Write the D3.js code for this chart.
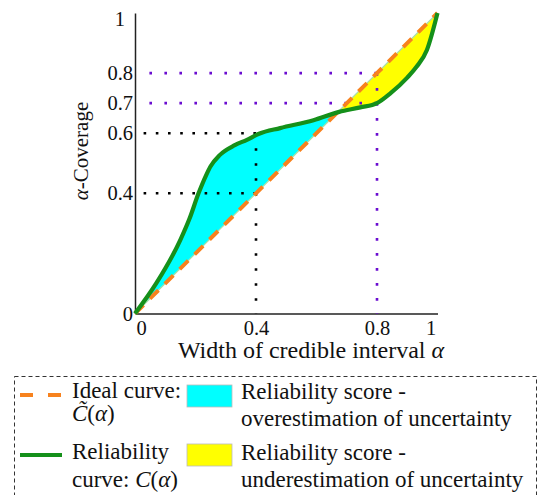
<!DOCTYPE html>
<html>
<head>
<meta charset="utf-8">
<script src="https://cdn.jsdelivr.net/npm/d3@7"></script>
<style>
  body { margin: 0; background: #fff; }
  svg { display: block; }
</style>
</head>
<body>
<svg width="542" height="495"></svg>
<script>
const width = 542
const height = 495
const serif = '"Liberation Serif"'

// Data
const alpha = [0, 0.07, 0.15, 0.18, 0.21, 0.235, 0.25, 0.28, 0.33, 0.37, 0.41, 0.48, 0.59, 0.675, 0.745, 0.8, 0.845, 0.9, 0.93, 0.965, 1]
const coverage = [0, 0.1, 0.245, 0.315, 0.4, 0.46, 0.49, 0.527, 0.56, 0.578, 0.598, 0.617, 0.643, 0.671, 0.686, 0.70, 0.733, 0.785, 0.82, 0.877, 1]
const ideal = [0, 1]
const xTicks = [0, 0.4, 0.8, 1]
const yTicks = [0, 0.4, 0.6, 0.7, 0.8, 1]
const blackGuideX = 0.4
const blackGuideY = [0.4, 0.6]
const purpleGuideX = 0.8
const purpleGuideY = [0.7, 0.8]

const colors = {
    ideal: "#f7821e",
    reliab: "#15901a",
    over: "#00ffff",
    under: "#ffff00",
    purple: "#6a0dd0"
}

let svg = d3.select("svg")

// Scales
let xScale = d3.scaleLinear().domain([0, 1]).range([135, 437.5])
let yScale = d3.scaleLinear().domain([0, 1]).range([313.5, 13])

const curveData = alpha.map((a, i) => ({a: a, c: coverage[i]}))
const idealData = ideal.map(a => ({a: a, c: a}))

// clip regions above / below the diagonal
const defs = svg.append("defs")
defs.append("clipPath").attr("id", "above")
    .append("path")
    .attr("d", d3.line()([[xScale(0), yScale(0)], [xScale(0), yScale(1.05)], [xScale(1), yScale(1)]]) + "Z")
defs.append("clipPath").attr("id", "below")
    .append("path")
    .attr("d", d3.line()([[xScale(0), yScale(0)], [xScale(1.05), yScale(0)], [xScale(1), yScale(1)]]) + "Z")

// Area between reliability curve and ideal curve
let areaGen = d3.area()
    .x(d => xScale(d.a))
    .y0(d => yScale(d.a))
    .y1(d => yScale(d.c))
    .curve(d3.curveMonotoneX)

svg.append("path").datum(curveData)
    .attr("d", areaGen)
    .attr("fill", colors.over)
    .attr("clip-path", "url(#above)")
svg.append("path").datum(curveData)
    .attr("d", areaGen)
    .attr("fill", colors.under)
    .attr("clip-path", "url(#below)")

// Axes
const yAxis = d3.axisLeft(yScale).tickValues(yTicks).tickSize(0).tickPadding(2)
    .tickFormat(d => d3.format("")(d))
const xAxis = d3.axisBottom(xScale).tickValues(xTicks).tickSize(0).tickPadding(7)
    .tickFormat(d => d3.format("")(d))

let gy = svg.append("g")
    .attr("transform", `translate(${xScale(0)},0)`)
    .call(yAxis)
let gx = svg.append("g")
    .attr("transform", `translate(0,${yScale(0)})`)
    .call(xAxis)

;[gx, gy].forEach(g => {
    g.attr("font-family", null).attr("font-size", null)
    g.select(".domain").attr("stroke", "#222").attr("stroke-width", 1.5)
    g.selectAll("text").style("font-family", serif).style("font-size", "20.5px").attr("fill", "#111")
})
gx.selectAll(".tick text").filter(d => d === 0).attr("dx", 6)
gx.selectAll(".tick text").filter(d => d === 1).attr("dx", -7)
gy.selectAll(".tick text").filter(d => d === 1).attr("dx", -8).attr("dy", "0.6em")

// Guide lines (dotted)
function guides(gx0, gys, color, hDash) {
    gys.forEach(v => {
        svg.append("line")
            .attr("x1", xScale(gx0)).attr("y1", yScale(v))
            .attr("x2", xScale(0) + 4).attr("y2", yScale(v))
            .attr("stroke", color).attr("stroke-width", 2.6)
            .attr("stroke-dasharray", hDash)
    })
    svg.append("line")
        .attr("x1", xScale(gx0)).attr("y1", yScale(d3.max(gys)))
        .attr("x2", xScale(gx0)).attr("y2", yScale(0))
        .attr("stroke", color).attr("stroke-width", 2.6)
        .attr("stroke-dasharray", "2.6,12.4")
}
guides(blackGuideX, blackGuideY, "#000", "2.6,9.6")
guides(purpleGuideX, purpleGuideY, colors.purple, "2.6,12.4")

// Ideal curve
let lineGen = d3.line().x(d => xScale(d.a)).y(d => yScale(d.c))
svg.append("path").datum(idealData)
    .attr("d", lineGen)
    .attr("fill", "none")
    .attr("stroke", "#a9dfa9")
    .attr("stroke-width", 1.2)
svg.append("path").datum(idealData)
    .attr("d", lineGen)
    .attr("fill", "none")
    .attr("stroke", colors.ideal)
    .attr("stroke-width", 4)
    .attr("stroke-dasharray", "12,9")

// Reliability curve
svg.append("path").datum(curveData)
    .attr("d", lineGen.curve(d3.curveMonotoneX))
    .attr("fill", "none")
    .attr("stroke", colors.reliab)
    .attr("stroke-width", 4.2)
    .attr("stroke-linejoin", "round")

// Axis titles
const xTitle = svg.append("text")
    .attr("x", 311).attr("y", 358)
    .attr("text-anchor", "middle")
    .style("font-family", serif).style("font-size", "24px").attr("fill", "#111")
xTitle.append("tspan").text("Width of credible interval ")
xTitle.append("tspan").style("font-style", "italic").text("α")

const yTitle = svg.append("text")
    .attr("transform", "translate(88,151) rotate(-90)")
    .attr("text-anchor", "middle")
    .style("font-family", serif).style("font-size", "21px").attr("fill", "#111")
yTitle.append("tspan").style("font-style", "italic").text("α")
yTitle.append("tspan").text("-Coverage")

// Legend
const legend = svg.append("g").attr("class", "legend")
legend.append("rect")
    .attr("x", 14.5).attr("y", 376.5)
    .attr("width", 522).attr("height", 140)
    .attr("fill", "none").attr("stroke", "#333")
    .attr("stroke-width", 1).attr("stroke-dasharray", "4,3")

const lineItems = [
    {y: 395, color: colors.ideal, dash: "13,15"},
    {y: 455, color: colors.reliab, dash: null}
]
legend.selectAll(".lline").data(lineItems).enter()
    .append("line")
    .attr("x1", 20).attr("x2", 62)
    .attr("y1", d => d.y).attr("y2", d => d.y)
    .attr("stroke", d => d.color).attr("stroke-width", 4)
    .attr("stroke-dasharray", d => d.dash)

const boxItems = [
    {y: 385, color: colors.over},
    {y: 444, color: colors.under}
]
legend.selectAll(".lbox").data(boxItems).enter()
    .append("rect")
    .attr("x", 187).attr("y", d => d.y)
    .attr("width", 45).attr("height", 22)
    .attr("fill", d => d.color)
    .attr("stroke", "#bbb").attr("stroke-width", 0.8)

function ltext(x, y) {
    return legend.append("text").attr("x", x).attr("y", y)
        .style("font-family", serif).style("font-size", "23px").attr("fill", "#111")
}
ltext(72, 398).text("Ideal curve:")
let t2 = ltext(72, 421)
t2.append("tspan").style("font-style", "italic").text("C\u0303")
t2.append("tspan").text("(")
t2.append("tspan").style("font-style", "italic").text("α")
t2.append("tspan").text(")")
ltext(72, 459).text("Reliability")
let t4 = ltext(72, 487)
t4.append("tspan").text("curve: ")
t4.append("tspan").style("font-style", "italic").text("C")
t4.append("tspan").text("(")
t4.append("tspan").style("font-style", "italic").text("α")
t4.append("tspan").text(")")

ltext(241, 399).text("Reliability score -")
ltext(241, 426).text("overestimation of uncertainty")
ltext(241, 460).text("Reliability score -")
ltext(241, 487).text("underestimation of uncertainty")
</script>
</body>
</html>
